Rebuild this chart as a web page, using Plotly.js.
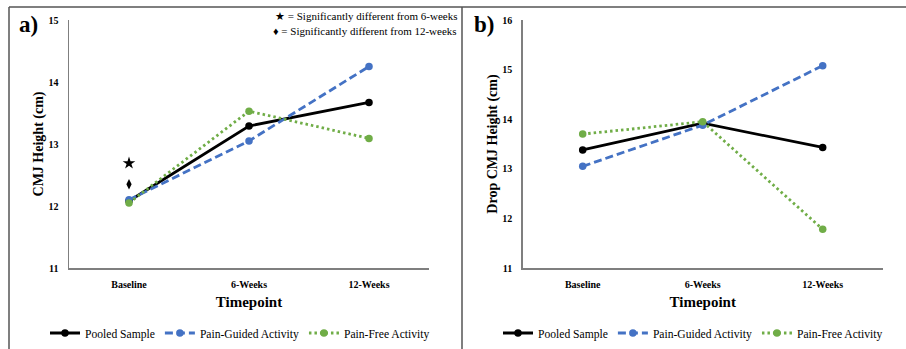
<!DOCTYPE html>
<html>
<head>
<meta charset="utf-8">
<script src="https://cdn.plot.ly/plotly-3.0.1.min.js"></script>
<style>html,body{margin:0;padding:0;background:#fff;}#chart{width:906px;height:349px;}</style>
</head>
<body>
<div id="chart"></div>
<script>
// ---- Data ----
const timepoints = ['Baseline', '6-Weeks', '12-Weeks'];
const seriesNames = ['Pooled Sample', 'Pain-Guided Activity', 'Pain-Free Activity'];

// Panel a) CMJ Height (cm)
const cmjPooled = [12.08, 13.29, 13.67];
const cmjPainGuided = [12.10, 13.05, 14.25];
const cmjPainFree = [12.05, 13.53, 13.09];
const cmjStarY = [12.69];     // significantly different from 6-weeks
const cmjDiamondY = [12.35];  // significantly different from 12-weeks

// Panel b) Drop CMJ Height (cm)
const dropPooled = [13.38, 13.92, 13.43];
const dropPainGuided = [13.05, 13.88, 15.08];
const dropPainFree = [13.70, 13.95, 11.78];

// ---- Styles ----
const FONT = 'Liberation Serif';
const colors = ['#000000', '#4472C4', '#70AD47'];
const dashes = ['solid', '8px,4px', '2.5px,3px'];

function mkTrace(y, i, xa, ya, leg) {
  return {
    x: timepoints, y: y, type: 'scatter', mode: 'lines+markers',
    name: seriesNames[i], xaxis: xa, yaxis: ya, legend: leg,
    line: {color: colors[i], width: 2.8, dash: dashes[i]},
    marker: {color: colors[i], size: 7.5, symbol: 'circle'}
  };
}

const traces = [
  mkTrace(cmjPooled, 0, 'x', 'y', 'legend'),
  mkTrace(cmjPainGuided, 1, 'x', 'y', 'legend'),
  mkTrace(cmjPainFree, 2, 'x', 'y', 'legend'),
  {x: [timepoints[0]], y: cmjStarY, type: 'scatter', mode: 'markers', showlegend: false,
   xaxis: 'x', yaxis: 'y', marker: {symbol: 'star', size: 9.5, color: '#000'}, hoverinfo: 'skip'},
  {x: [timepoints[0]], y: cmjDiamondY, type: 'scatter', mode: 'markers', showlegend: false,
   xaxis: 'x', yaxis: 'y', marker: {symbol: 'diamond-tall', size: 7.5, color: '#000'}, hoverinfo: 'skip'},
  mkTrace(dropPooled, 0, 'x2', 'y2', 'legend2'),
  mkTrace(dropPainGuided, 1, 'x2', 'y2', 'legend2'),
  mkTrace(dropPainFree, 2, 'x2', 'y2', 'legend2')
];

const W = 906, H = 349;
const px = v => v / W;
const py = v => 1 - v / H;

const tickFont = {family: FONT, size: 10, color: '#000', weight: 'bold'};
const titleFont = {family: FONT, size: 14, color: '#000', weight: 'bold'};
const xTitleFont = {family: FONT, size: 15, color: '#000', weight: 'bold'};

function xAxis(domain, anchor) {
  return {
    domain: domain, anchor: anchor, type: 'category', range: [-0.5, 2.5],
    showline: true, linecolor: '#7f7f7f', linewidth: 1.5, showgrid: false, zeroline: false,
    ticks: '', tickfont: tickFont, ticklabelstandoff: 6,
    title: {text: 'Timepoint', font: xTitleFont, standoff: 8}, fixedrange: true
  };
}
function yAxis(range, title, anchor) {
  return {
    domain: [py(268), py(20)], anchor: anchor, range: range, dtick: 1, tick0: 0,
    showline: true, linecolor: '#7f7f7f', linewidth: 1.5, showgrid: false, zeroline: false,
    ticks: '', tickfont: tickFont, ticklabelstandoff: 7,
    title: {text: title, font: titleFont, standoff: 1}, fixedrange: true
  };
}

const legendBase = {
  orientation: 'h', yanchor: 'middle', xanchor: 'left', y: py(333),
  font: {family: FONT, size: 11.6, color: '#000'}, bgcolor: 'rgba(0,0,0,0)',
  borderwidth: 0, itemwidth: 30, tracegroupgap: 0
};

const layout = {
  width: W, height: H,
  margin: {l: 0, r: 0, t: 0, b: 0},
  paper_bgcolor: '#fff', plot_bgcolor: '#fff',
  font: {family: FONT, color: '#000'},
  showlegend: true,
  xaxis: xAxis([px(69), px(429)], 'y'),
  yaxis: yAxis([11, 15], 'CMJ Height (cm)', 'x'),
  xaxis2: xAxis([px(522.7), px(882.7)], 'y2'),
  yaxis2: yAxis([11, 16], 'Drop CMJ Height (cm)', 'x2'),
  legend: Object.assign({}, legendBase, {x: px(45)}),
  legend2: Object.assign({}, legendBase, {x: px(498)}),
  annotations: [
    {text: 'a)', xref: 'paper', yref: 'paper', x: px(17), y: py(25), xanchor: 'left', yanchor: 'middle',
     showarrow: false, font: {family: FONT, size: 23, color: '#000', weight: 'bold'}},
    {text: 'b)', xref: 'paper', yref: 'paper', x: px(472), y: py(25), xanchor: 'left', yanchor: 'middle',
     showarrow: false, font: {family: FONT, size: 23, color: '#000', weight: 'bold'}},
    {text: '★ = Significantly different from 6-weeks', xref: 'paper', yref: 'paper', x: px(459), y: py(16),
     xanchor: 'right', yanchor: 'middle', showarrow: false, font: {family: FONT, size: 11, color: '#000'}},
    {text: '♦ = Significantly different from 12-weeks', xref: 'paper', yref: 'paper', x: px(459), y: py(31),
     xanchor: 'right', yanchor: 'middle', showarrow: false, font: {family: FONT, size: 11, color: '#000'}}
  ],
  shapes: [
    {type: 'line', xref: 'paper', yref: 'paper', x0: px(9), x1: 1, y0: py(7), y1: py(7), line: {color: '#555', width: 1.5}},
    {type: 'line', xref: 'paper', yref: 'paper', x0: px(9), x1: px(9), y0: py(7), y1: 0, line: {color: '#555', width: 1.5}},
    {type: 'line', xref: 'paper', yref: 'paper', x0: px(462), x1: px(462), y0: py(7), y1: 0, line: {color: '#555', width: 1.5}}
  ]
};

Plotly.newPlot('chart', traces, layout, {displayModeBar: false, staticPlot: true});
</script>
</body>
</html>
